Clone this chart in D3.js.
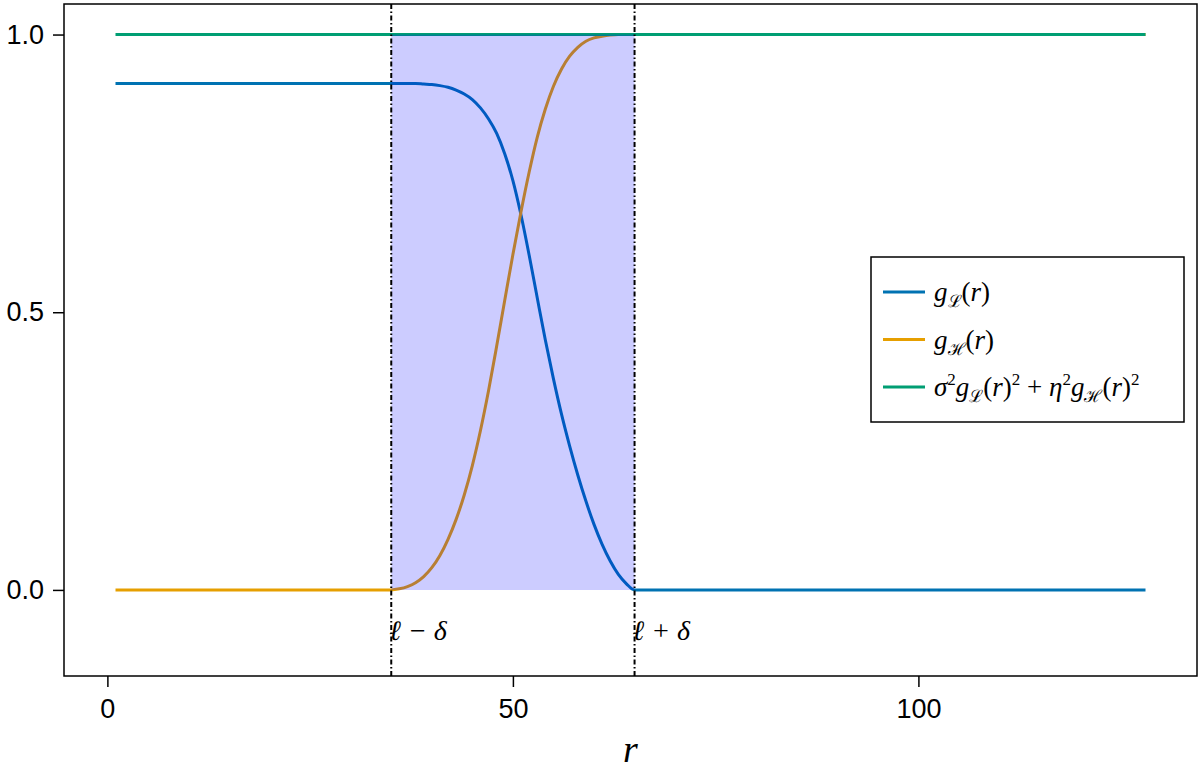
<!DOCTYPE html>
<html>
<head>
<meta charset="utf-8">
<script src="https://cdn.jsdelivr.net/npm/d3@7"></script>
<style>
  body { margin: 0; background: #fff; }
  svg text { fill: #000; }
  .tick-label { font-family: "Liberation Sans", Arial, sans-serif; font-size: 27px; }
  .math { font-family: "Liberation Serif", "DejaVu Serif", serif; font-style: italic; }
</style>
</head>
<body>
<svg id="chart"></svg>
<script>
// sample positions along r
const rKnots = [1, 35, 36, 37, 38, 39, 40, 41, 42, 43, 44, 45, 46, 47, 48, 49, 50,
                51, 52, 53, 54, 55, 56, 57, 58, 59, 60, 61, 62, 63, 64, 65, 128];
// g_L(r), blue
const gLow = [0.912, 0.912, 0.912, 0.912, 0.912, 0.911, 0.910, 0.908, 0.905, 0.900, 0.893, 0.883, 0.868,
              0.848, 0.822, 0.785, 0.737, 0.675, 0.603, 0.526, 0.450, 0.380, 0.316, 0.259, 0.207,
              0.160, 0.118, 0.082, 0.052, 0.028, 0.011, 0.0, 0.0];
// g_H(r), orange
const gHigh = [0.0, 0.0, 0.002, 0.006, 0.013, 0.024, 0.040, 0.062, 0.091, 0.127, 0.171, 0.224, 0.287,
               0.359, 0.439, 0.522, 0.604, 0.681, 0.752, 0.815, 0.866, 0.907, 0.938, 0.961, 0.977,
               0.988, 0.994, 0.997, 0.999, 1.0, 1.0, 1.0, 1.0];
// sigma^2 g_L^2 + eta^2 g_H^2, green
const sumR = [1, 128];
const sumV = [1.0, 1.0];

const bandR = [35, 65];          // shaded transition zone
const vlines = [35, 65];
const vlineLabels = ['ℓ − δ', 'ℓ + δ'];
const xTicks = [0, 50, 100];
const yTicks = [0.0, 0.5, 1.0];

const width = 1200, height = 773;
const margin = {top: 4, right: 3, bottom: 97, left: 64};

const svg = d3.select('#chart').attr('width', width).attr('height', height);

const x = d3.scaleLinear().domain([-5.35, 134.35]).range([margin.left, width - margin.right]);
const y = d3.scaleLinear().domain([-0.155, 1.055]).range([height - margin.bottom, margin.top]);

const colors = {low: '#0072b2', high: '#e69f00', sum: '#009e73'};

const line = d3.line()
    .x(d => x(d[0]))
    .y(d => y(d[1]))
    .curve(d3.curveMonotoneX);

const plot = svg.append('g');

plot.append('path')
    .datum(rKnots.map((r, i) => [r, gLow[i]]))
    .attr('d', line)
    .attr('fill', 'none')
    .attr('stroke', colors.low)
    .attr('stroke-width', 3);

plot.append('path')
    .datum(rKnots.map((r, i) => [r, gHigh[i]]))
    .attr('d', line)
    .attr('fill', 'none')
    .attr('stroke', colors.high)
    .attr('stroke-width', 3);

plot.append('path')
    .datum(sumR.map((r, i) => [r, sumV[i]]))
    .attr('d', line)
    .attr('fill', 'none')
    .attr('stroke', colors.sum)
    .attr('stroke-width', 3);

// band on top of the lines (that is why the lines look tinted inside it)
const area = d3.area()
    .x(d => x(d))
    .y0(y(0))
    .y1(y(1));
plot.append('path')
    .datum(bandR)
    .attr('d', area)
    .attr('fill', 'rgb(0,0,255)')
    .attr('fill-opacity', 0.2);

// dash-dot markers
plot.selectAll('.vline')
    .data(vlines)
    .enter()
    .append('line')
    .attr('class', 'vline')
    .attr('x1', d => x(d)).attr('x2', d => x(d))
    .attr('y1', margin.top).attr('y2', height - margin.bottom)
    .attr('stroke', '#000')
    .attr('stroke-width', 2)
    .attr('stroke-dasharray', '5,2.5,1.5,2.5');

plot.selectAll('.vlabel')
    .data(vlines)
    .enter()
    .append('text')
    .attr('class', 'math')
    .attr('x', d => x(d) - 2)
    .attr('y', y(-0.09))
    .style('font-size', '28px')
    .text((d, i) => vlineLabels[i]);

// frame
svg.append('rect')
    .attr('x', margin.left).attr('y', margin.top)
    .attr('width', width - margin.left - margin.right)
    .attr('height', height - margin.top - margin.bottom)
    .attr('fill', 'none')
    .attr('stroke', '#000')
    .attr('stroke-width', 1.5);

// axes
const xAxis = svg.append('g')
    .attr('transform', 'translate(0,' + (height - margin.bottom) + ')')
    .call(d3.axisBottom(x).tickValues(xTicks).tickSize(11).tickPadding(12).tickFormat(d3.format('d')));
const yAxis = svg.append('g')
    .attr('transform', 'translate(' + margin.left + ',0)')
    .call(d3.axisLeft(y).tickValues(yTicks).tickSize(11).tickPadding(9).tickFormat(d3.format('.1f')));

[xAxis, yAxis].forEach(a => {
    a.select('.domain').remove();
    a.selectAll('.tick line').attr('stroke', '#000').attr('stroke-width', 1.5);
    a.selectAll('.tick text').attr('class', 'tick-label').attr('font-family', null).attr('font-size', null);
});

svg.append('text')
    .attr('class', 'math')
    .attr('x', (margin.left + width - margin.right) / 2)
    .attr('y', 762)
    .attr('text-anchor', 'middle')
    .style('font-size', '38px')
    .text('r');

// legend
const legend = svg.append('g').attr('transform', 'translate(871,257)');
legend.append('rect')
    .attr('width', 313).attr('height', 165)
    .attr('fill', '#fff')
    .attr('stroke', '#000')
    .attr('stroke-width', 1.5);

const legendItems = [
    {color: colors.low, parts: [['g', ''], ['ℒ', 'sub'], ['(', 'up'], ['r', ''], [')', 'up']]},
    {color: colors.high, parts: [['g', ''], ['ℋ', 'sub'], ['(', 'up'], ['r', ''], [')', 'up']]},
    {color: colors.sum, parts: [['σ', ''], ['2', 'sup'], ['g', ''], ['ℒ', 'sub'], ['(', 'up'], ['r', ''], [')', 'up'], ['2', 'sup'],
        [' + ', 'up'], ['η', ''], ['2', 'sup'], ['g', ''], ['ℋ', 'sub'], ['(', 'up'], ['r', ''], [')', 'up'], ['2', 'sup']]}
];

const rows = legend.selectAll('.entry')
    .data(legendItems)
    .enter()
    .append('g')
    .attr('transform', (d, i) => 'translate(0,' + (35 + i * 47.5) + ')');

rows.append('line')
    .attr('x1', 12).attr('x2', 54)
    .attr('stroke', d => d.color)
    .attr('stroke-width', 3);

rows.each(function (d) {
    let t = d3.select(this).append('text')
        .attr('class', 'math')
        .attr('x', 63)
        .attr('y', 9)
        .style('font-size', '27px');
    let shift = 0;   // current baseline offset, undone on the next piece
    d.parts.forEach(p => {
        let target = p[1] === 'sub' ? 6 : (p[1] === 'sup' ? -11 : 0);
        let s = t.append('tspan').attr('dy', target - shift).text(p[0]);
        shift = target;
        if (p[1] === 'sub' || p[1] === 'sup') {
            s.style('font-size', '17px').style('font-style', 'normal');
        } else if (p[1] === 'up') {
            s.style('font-style', 'normal');
        }
    });
});
</script>
</body>
</html>
